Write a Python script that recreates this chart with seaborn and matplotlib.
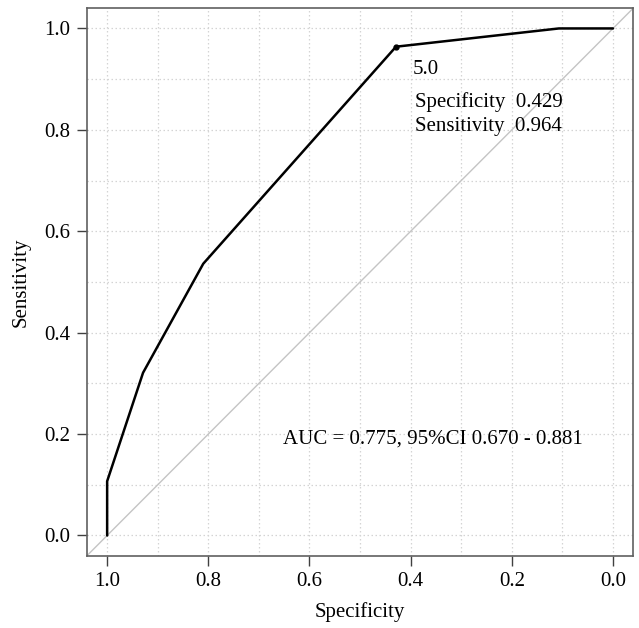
import numpy as np
import pandas as pd
import matplotlib
matplotlib.use("Agg")
import matplotlib.pyplot as plt
import seaborn as sns

# ROC curve points
specificity = [1.0, 1.0, 0.929, 0.81, 0.429, 0.107, 0.0]
sensitivity = [0.0, 0.107, 0.321, 0.536, 0.964, 1.0, 1.0]

best_threshold = "5.0"
best_spec = 0.429
best_sens = 0.964
auc_text = "AUC = 0.775, 95%CI 0.670 - 0.881"

tick_values = [1.0, 0.8, 0.6, 0.4, 0.2, 0.0]
grid_values = np.round(np.arange(0, 1.01, 0.1), 1)

sns.set_theme(style="white")
plt.rcParams['font.family'] = ['Liberation Serif', 'DejaVu Serif']
plt.rcParams['text.color'] = 'black'
plt.rcParams['axes.labelcolor'] = 'black'
plt.rcParams['xtick.color'] = 'black'
plt.rcParams['ytick.color'] = 'black'

df = pd.DataFrame({'Specificity': specificity, 'Sensitivity': sensitivity})

fig = plt.figure(figsize=(6.39, 6.28), dpi=100)
ax = fig.add_axes([0.136, 0.115, 0.855, 0.872])

# dotted grid every 0.1
for g in grid_values:
    ax.axvline(g, color='#d4d4d4', lw=0.9, ls=(0, (1.2, 2)), zorder=0)
    ax.axhline(g, color='#d4d4d4', lw=0.9, ls=(0, (1.2, 2)), zorder=0)

# chance line (x axis is reversed, so spec + sens = 1)
ax.axline((1, 0), (0, 1), color='#c4c4c4', lw=1.0, zorder=1)

sns.lineplot(data=df, x='Specificity', y='Sensitivity', sort=False,
             estimator=None, color='black', lw=1.8, ax=ax, zorder=3)
ax.plot([best_spec], [best_sens], 'o', color='black', ms=3.5, zorder=4)

ax.text(best_spec - 0.033, best_sens - 0.045, best_threshold, fontsize=15,
        ha='left', va='center')
ax.text(best_spec - 0.037, best_sens - 0.11,
        f"Specificity  {best_spec:.3f}", fontsize=15, ha='left', va='center')
ax.text(best_spec - 0.037, best_sens - 0.157,
        f"Sensitivity  {best_sens:.3f}", fontsize=15, ha='left', va='center')
ax.text(0.356, 0.19, auc_text, fontsize=15, ha='center', va='center')

ax.set_xlim(1.04, -0.04)
ax.set_ylim(-0.04, 1.04)
ax.set_xticks(tick_values)
ax.set_xticklabels([f"{v:.1f}" for v in tick_values])
ax.set_yticks(tick_values)
ax.set_yticklabels([f"{v:.1f}" for v in tick_values])
ax.tick_params(axis='both', which='major', direction='out', length=7,
               width=1.0, color='#404040', labelsize=15, pad=5,
               bottom=True, left=True)
for s in ax.spines.values():
    s.set_color('#606060')
    s.set_linewidth(1.2)

ax.set_xlabel('Specificity', fontsize=15, labelpad=8)
ax.set_ylabel('Sensitivity', fontsize=15, labelpad=10)

fig.savefig('out.png', dpi=100)
